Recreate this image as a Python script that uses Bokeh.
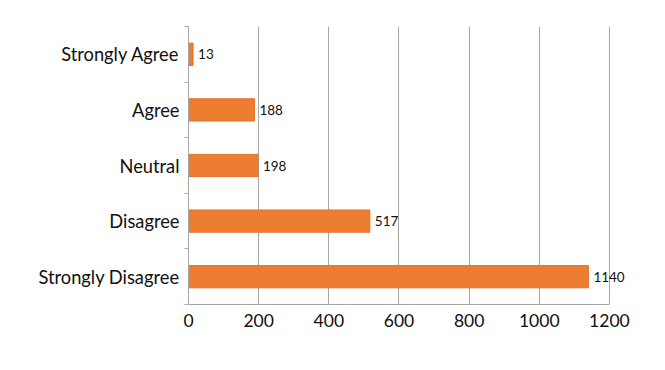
from bokeh.plotting import figure
from bokeh.models import ColumnDataSource, LabelSet, Range1d, FixedTicker
from bokeh.core.properties import value
from bokeh.embed import file_html
from bokeh.resources import INLINE

categories = ["Strongly Agree", "Agree", "Neutral", "Disagree", "Strongly Disagree"]
counts = [13, 188, 198, 517, 1140]
x_ticks = [0, 200, 400, 600, 800, 1000, 1200]
x_max = 1200

n = len(categories)
ypos = [n - 1 - i for i in range(n)]

src = ColumnDataSource(dict(cat=categories, y=ypos, v=counts,
                            lbl=[str(c) for c in counts]))

p = figure(width=657, height=362, output_backend="svg", toolbar_location=None,
           x_range=Range1d(0, 1300), y_range=Range1d(-0.5, n - 0.5),
           min_border_left=188, min_border_right=13,
           min_border_top=26, min_border_bottom=58)
p.outline_line_color = None
p.background_fill_color = "white"
p.border_fill_color = "white"

p.hbar(y="y", right="v", left=0, height=0.4, source=src,
       fill_color="#ED7D31", line_color="#E2712A", line_width=1)

labels = LabelSet(x="v", y="y", text="lbl", source=src, x_offset=5,
                  text_baseline="middle", text_align="left",
                  text_font=value("Lato"), text_font_size=value("13.5px"),
                  text_color="#111111")
p.add_layout(labels)

# x axis
p.xaxis.ticker = FixedTicker(ticks=x_ticks)
p.xaxis.bounds = (0, x_max)
p.xaxis.axis_line_color = "#a6a6a6"
p.xaxis.major_tick_line_color = None
p.xaxis.major_tick_out = 0
p.xaxis.major_tick_in = 0
p.xaxis.minor_tick_line_color = None
p.xaxis.major_label_text_font = "Lato"
p.xaxis.major_label_text_font_size = "17.5px"
p.xaxis.major_label_text_color = "#111111"
p.xaxis.major_label_standoff = 9

# y axis
p.yaxis.ticker = FixedTicker(ticks=ypos, minor_ticks=[k + 0.5 for k in range(-1, n)])
p.yaxis.major_label_overrides = {y: c for y, c in zip(ypos, categories)}
p.yaxis.axis_line_color = "#a6a6a6"
p.yaxis.major_tick_line_color = None
p.yaxis.major_tick_out = 0
p.yaxis.major_tick_in = 0
p.yaxis.minor_tick_line_color = "#a6a6a6"
p.yaxis.minor_tick_out = 4
p.yaxis.minor_tick_in = 0
p.yaxis.major_label_text_font = "Lato"
p.yaxis.major_label_text_font_size = "18.3px"
p.yaxis.major_label_text_color = "#111111"
p.yaxis.major_label_standoff = 5

p.xgrid.grid_line_color = "#a6a6a6"
p.xgrid.grid_line_width = 1
p.xgrid.bounds = (0, x_max)
p.ygrid.grid_line_color = None

open("out.html", "w").write(file_html(p, INLINE))
